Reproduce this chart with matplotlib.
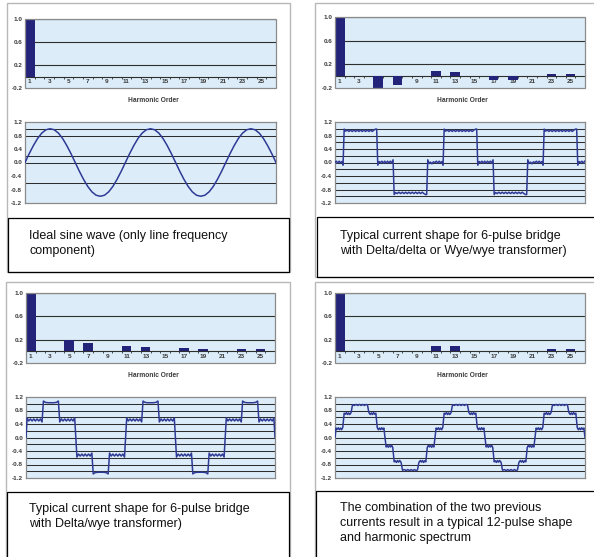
import numpy as np
import matplotlib.pyplot as plt
from matplotlib.patches import Rectangle

plt.rcParams['font.family'] = ['Liberation Sans', 'DejaVu Sans']

W, H = 594, 557

# harmonic spectra (odd harmonics 1..25, per-unit of fundamental)
harmonics = [1, 3, 5, 7, 9, 11, 13, 15, 17, 19, 21, 23, 25]
spec_ideal = [1.0, 0, 0, 0, 0, 0, 0, 0, 0, 0, 0, 0, 0]
spec_6p_yy = [1.0, 0, -0.20, -0.145, 0, 0.095, 0.075, 0, -0.065, -0.06, 0, 0.045, 0.045]
spec_6p_dy = [1.0, 0, 0.20, 0.135, 0, 0.085, 0.077, 0, 0.055, 0.045, 0, 0.048, 0.045]
spec_12p = [1.0, 0, 0, 0, 0, 0.095, 0.085, 0, 0, 0, 0, 0.045, 0.042]

# one period of each current waveform (phase in degrees, per-unit value)
sine_deg = [0, 15, 30, 45, 60, 75, 90, 105, 120, 135, 150, 165,
            180, 195, 210, 225, 240, 255, 270, 285, 300, 315, 330, 345]
sine_val = [0.00, 0.26, 0.50, 0.71, 0.87, 0.97, 1.00, 0.97, 0.87, 0.71, 0.50, 0.26,
            0.00, -0.26, -0.50, -0.71, -0.87, -0.97, -1.00, -0.97, -0.87, -0.71, -0.50, -0.26]

yy_deg = [0, 5, 10, 15, 20, 25, 29, 33, 38, 44, 50, 56, 62, 68, 74, 80, 86, 92, 98, 104,
          110, 116, 122, 128, 134, 140, 146, 150,
          154, 159, 164, 169, 174, 179, 184, 189, 194, 199, 204, 209,
          213, 218, 224, 230, 236, 242, 248, 254, 260, 266, 272, 278, 284, 290, 296, 302,
          308, 314, 320, 326, 330,
          334, 339, 344, 349, 354]
yy_val = [0.00, 0.04, -0.02, 0.04, -0.01, 0.03, -0.08, 0.99, 0.93,
          0.96, 0.92, 0.96, 0.92, 0.96, 0.92, 0.96, 0.92, 0.96, 0.92, 0.96, 0.92, 0.96, 0.92,
          0.96, 0.92, 0.96, 0.99, 0.99,
          -0.08, 0.03, -0.01, 0.04, -0.02, 0.04, -0.02, 0.04, -0.01, 0.04, -0.02, 0.08,
          -0.95, -0.89,
          -0.92, -0.88, -0.92, -0.88, -0.92, -0.88, -0.92, -0.88, -0.92, -0.88, -0.92, -0.88,
          -0.92, -0.88, -0.92, -0.88, -0.92, -0.95, -0.95,
          0.08, -0.03, 0.01, -0.04, 0.02]

dy_deg = [0, 4, 10, 16, 22, 28, 34, 40, 46, 52, 58, 63, 70, 80, 90, 100, 110, 117,
          122, 128, 134, 140, 146, 152, 158, 164, 170, 176,
          180, 184, 190, 196, 202, 208, 214, 220, 226, 232, 238, 243, 250, 260, 270, 280, 290, 297,
          302, 308, 314, 320, 326, 332, 338, 344, 350, 356]
dy_val = [0.00, 0.58, 0.49, 0.55, 0.49, 0.55, 0.49, 0.55, 0.49, 0.55, 0.46,
          1.08, 1.04, 1.03, 1.03, 1.03, 1.04, 1.08,
          0.46, 0.55, 0.49, 0.55, 0.49, 0.55, 0.49, 0.55, 0.49, 0.58,
          0.00, -0.58, -0.49, -0.55, -0.49, -0.55, -0.49, -0.55, -0.49, -0.55, -0.46,
          -1.08, -1.04, -1.03, -1.03, -1.03, -1.04, -1.08,
          -0.46, -0.55, -0.49, -0.55, -0.49, -0.55, -0.49, -0.55, -0.49, -0.58]

tp_deg = [0, 4, 8, 12, 16, 20, 24, 28, 33, 37, 41, 45, 49, 53, 58,
          63, 70, 76, 82, 88, 94, 100, 106, 112, 117,
          122, 127, 131, 135, 139, 143, 147, 152, 156, 160, 164, 168, 172, 176,
          180, 184, 188, 192, 196, 200, 204, 208, 213, 217, 221, 225, 229, 233, 238,
          243, 250, 256, 262, 268, 274, 280, 286, 292, 297,
          302, 307, 311, 315, 319, 323, 327, 332, 336, 340, 344, 348, 352, 356]
tp_val = [0.00, 0.28, 0.24, 0.29, 0.23, 0.28, 0.23, 0.30, 0.72, 0.69, 0.74, 0.68, 0.73, 0.68, 0.74,
          0.97, 0.95, 0.98, 0.95, 0.98, 0.95, 0.98, 0.95, 0.98, 0.96,
          0.74, 0.68, 0.73, 0.68, 0.74, 0.69, 0.72, 0.30, 0.23, 0.28, 0.23, 0.29, 0.24, 0.28,
          0.00, -0.28, -0.24, -0.29, -0.23, -0.28, -0.23, -0.30, -0.72, -0.69, -0.74, -0.68, -0.73, -0.68, -0.74,
          -0.97, -0.95, -0.98, -0.95, -0.98, -0.95, -0.98, -0.95, -0.98, -0.96,
          -0.74, -0.68, -0.73, -0.68, -0.74, -0.69, -0.72, -0.30, -0.23, -0.28, -0.23, -0.29, -0.24, -0.28]

captions = [
    ["Ideal sine wave (only line frequency", "component)"],
    ["Typical current shape for 6-pulse bridge", "with Delta/delta or Wye/wye transformer)"],
    ["Typical current shape for 6-pulse bridge", "with Delta/wye transformer)"],
    ["The combination of the two previous", "currents result in a typical 12-pulse shape",
     "and harmonic spectrum"],
]

BG = '#dcedf9'
BAR = '#24237a'
LINE = '#2f3a95'
GRID = '#2e2e2e'
FRAME = '#8a8a8a'
OUTER = '#b8b8b8'
TICK = '#3c3c3c'

fig = plt.figure(figsize=(W / 100, H / 100), dpi=100)


def px_axes(x0, y0, x1, y1):
    return fig.add_axes([x0 / W, 1 - y1 / H, (x1 - x0) / W, (y1 - y0) / H])


def px_rect(x0, y0, x1, y1, color, lw):
    fig.patches.append(Rectangle((x0 / W, 1 - y1 / H), (x1 - x0) / W, (y1 - y0) / H,
                                 transform=fig.transFigure, fill=False, ec=color, lw=lw))


def tile(deg, val, span=900):
    deg = np.asarray(deg, float)
    val = np.asarray(val, float)
    x = np.concatenate([deg + 360 * k for k in range(3)])
    y = np.tile(val, 3)
    keep = x <= span
    return x[keep], y[keep]


def style_labels(labels):
    for t in labels:
        t.set_fontweight('bold')


def spectrum(ax, vals):
    ax.set_facecolor(BG)
    ax.bar(harmonics, vals, width=1.0, color=BAR, zorder=3)
    ax.set_xlim(0.5, 26.5)
    ax.set_ylim(-0.2, 1.0)
    for g in [0.2, 0.6, 1.0]:
        ax.axhline(g, color=GRID, lw=0.8, zorder=2)
    for s in ['top', 'left', 'right']:
        ax.spines[s].set_visible(False)
    ax.spines['bottom'].set_position(('data', 0))
    ax.spines['bottom'].set_color(GRID)
    ax.spines['bottom'].set_linewidth(0.8)
    ax.add_patch(Rectangle((0, 0), 1, 1, transform=ax.transAxes, fill=False,
                           ec=FRAME, lw=0.9, clip_on=False, zorder=4))
    ax.set_xticks(harmonics)
    ax.set_xticklabels([str(h) for h in harmonics])
    ax.set_xticks(np.arange(1.5, 26.5, 1.0), minor=True)
    ax.tick_params(axis='x', which='major', length=0, labelsize=4.6, colors=TICK, pad=2)
    ax.tick_params(axis='x', which='minor', length=1.5, width=0.6, color=GRID, direction='out')
    ax.set_yticks([-0.2, 0.2, 0.6, 1.0])
    ax.set_yticklabels(['-0.2', '0.2', '0.6', '1.0'])
    ax.tick_params(axis='y', length=0, labelsize=4.6, colors=TICK, pad=2)
    style_labels(ax.get_xticklabels() + ax.get_yticklabels())
    ax.set_xlabel('Harmonic Order', fontsize=4.8, fontweight='bold', color=TICK, labelpad=2)
    ax.xaxis.set_label_coords(0.51, -0.13)


def waveform(ax, deg, val, grid):
    ax.set_facecolor(BG)
    x, y = tile(deg, val)
    ax.plot(x, y, color=LINE, lw=1.1, zorder=3)
    ax.set_xlim(0, 900)
    ax.set_ylim(-1.2, 1.2)
    for g in grid:
        ax.axhline(g, color=GRID, lw=0.75, zorder=2)
    for s in ax.spines.values():
        s.set_color(FRAME)
        s.set_linewidth(0.9)
    ax.set_xticks([])
    yt = [1.2, 0.8, 0.4, 0.0, -0.4, -0.8, -1.2]
    ax.set_yticks(yt)
    ax.set_yticklabels(['%.1f' % v for v in yt])
    ax.tick_params(axis='y', length=0, labelsize=4.6, colors=TICK, pad=2)
    style_labels(ax.get_yticklabels())


grid_all = [1.0, 0.8, 0.6, 0.4, 0.2, 0.0, -0.2, -0.4, -0.6, -0.8, -1.0]

# outer frames and caption boxes
px_rect(7, 3, 290, 272, OUTER, 1.0)
px_rect(315, 3, 600, 277, OUTER, 1.0)
px_rect(6, 282, 290, 562, OUTER, 1.0)
px_rect(315, 282, 600, 562, OUTER, 1.0)
px_rect(8, 218, 289, 272, 'black', 0.9)
px_rect(317, 217, 600, 277, 'black', 0.9)
px_rect(7, 492, 289, 562, 'black', 0.9)
px_rect(316, 491, 600, 562, 'black', 0.9)

spectrum(px_axes(25, 19, 276, 88), spec_ideal)
waveform(px_axes(25, 122, 276, 203), sine_deg, sine_val, [1.0, 0.8, 0.2, 0.0, -0.6])

spectrum(px_axes(335, 17, 585, 88), spec_6p_yy)
waveform(px_axes(335, 122, 585, 203), yy_deg, yy_val, grid_all)

spectrum(px_axes(26, 293, 275, 363), spec_6p_dy)
waveform(px_axes(26, 397, 275, 478), dy_deg, dy_val, grid_all)

spectrum(px_axes(335, 293, 585, 363), spec_12p)
waveform(px_axes(335, 397, 585, 478), tp_deg, tp_val, grid_all)

cap_pos = [(29, 236), (340, 236), (29, 509), (340, 508)]
for (cx, cy), lines in zip(cap_pos, captions):
    for i, line in enumerate(lines):
        fig.text(cx / W, 1 - (cy + 15 * i) / H, line, fontsize=9, va='center', ha='left',
                 color='#111111')

fig.savefig('out.png', dpi=100)
